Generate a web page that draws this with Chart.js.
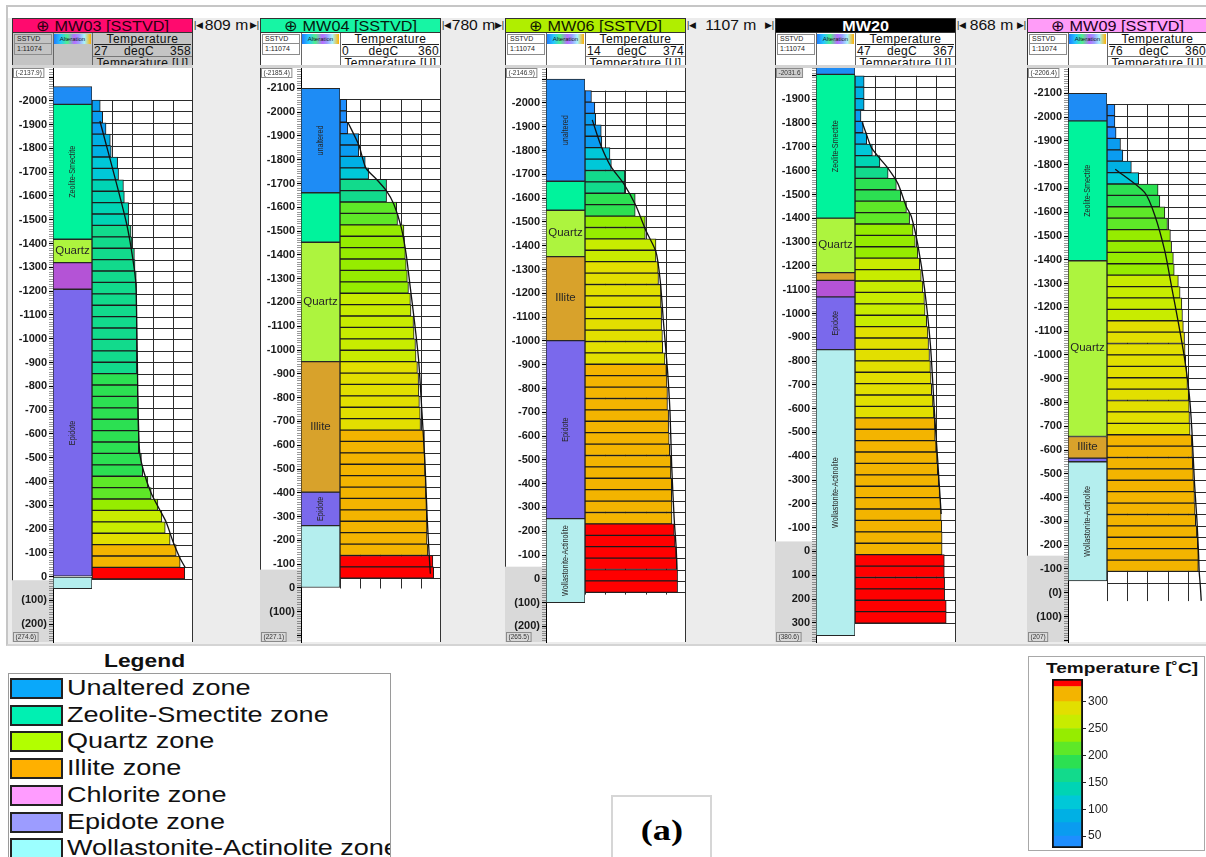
<!DOCTYPE html>
<html>
<head>
<meta charset="utf-8">
<title>Alteration zones and temperature logs</title>
<script src="https://cdn.jsdelivr.net/npm/chart.js@4.4.1/dist/chart.umd.min.js"></script>
<style>
  html, body { margin: 0; padding: 0; }
  body { position: relative; width: 1206px; height: 857px; overflow: hidden; background: #fff;
         font-family: Arial, "Liberation Sans", sans-serif; color: #111; }
  .wide { display: inline-block; transform-origin: left center; }
  .widec { display: inline-block; transform-origin: center center; }
</style>
</head>
<body>
<script>
// ============= SHARED DATA =============
const DEPTH_LABELS = [-2100, -2000, -1900, -1800, -1700, -1600, -1500, -1400, -1300, -1200, -1100,
  -1000, -900, -800, -700, -600, -500, -400, -300, -200, -100, 0, 100, 200, 300];

const TEMP_EDGES  = [28, 50, 75, 100, 125, 150, 175, 200, 225, 250, 275, 300, 328, 342];
const TEMP_COLORS = ['#1e8eff', '#0a9cf0', '#00b0e4', '#00c8d8', '#00d4b4', '#12da8c', '#2ce052',
  '#5ee828', '#96ec00', '#c8ec00', '#e2df00', '#f3b400', '#ff0000'];
const COLORBAR_TICKS = [50, 100, 150, 200, 250, 300];

const ZONE_NAMES  = ['Unaltered', 'Zeolite-Smectite', 'Quartz', 'Illite', 'Chlorite', 'Epidote', 'Wollastonite-Actinolite'];
const ZONE_COLORS = ['#1e8cf5', '#00f39c', '#adf43e', '#d8a22b', '#b453d6', '#7a69ec', '#b4eeee'];
const HORIZONTAL_LABELS = ['Quartz', 'Illite'];

const LEGEND_LABELS = ['Unaltered zone', 'Zeolite-Smectite zone', 'Quartz zone', 'Illite zone',
  'Chlorite zone', 'Epidote zone', 'Wollastonite-Actinolite zone'];
const LEGEND_COLORS = ['#0aa8fa', '#00f0b2', '#b2ff00', '#ffb000', '#ff9cff', '#9c9cff', '#9cffff'];

const DISTANCES = ['809 m', '780 m', '1107 m', '868 m'];

// ============= WELL MW03 =============
const MW03_RANGE = [-2137.9, 274.6];
const MW03_TAXIS = [27, 358];
const MW03_ZONES = ['Unaltered', 'Zeolite-Smectite', 'Quartz', 'Chlorite', 'Epidote', 'Wollastonite-Actinolite'];
const MW03_BOUNDS = [-2060, -1985, -1418, -1320, -1208, 0, 50];
const MW03_ZONE_TEXT = ['', 'Zeolite-Smectite', 'Quartz', '', 'Epidote', ''];
const MW03_ROW_TOP = -2050;
const MW03_TEMP = [54, 62, 73, 87, 90, 111, 114, 130, 133, 147, 148, 155, 158, 166, 168, 172, 173, 173,
  174, 174, 174, 174, 174, 174, 177, 177, 178, 178, 179, 180, 180, 189, 193, 210, 221, 243, 256, 267,
  283, 303, 316, 331];
const MW03_LOG_DEPTH = [-1958, -1516, -1306, -1208, -774, -507, -423, -325, -255, -199, -115, -45, 0];
const MW03_LOG_TEMP  = [53, 139, 166, 172, 177, 183, 196, 221, 248, 270, 292, 314, 332];

// ============= WELL MW04 =============
const MW04_RANGE = [-2185.4, 227.1];
const MW04_TAXIS = [0, 360];
const MW04_ZONES = ['Unaltered', 'Zeolite-Smectite', 'Quartz', 'Illite', 'Epidote', 'Wollastonite-Actinolite'];
const MW04_BOUNDS = [-2100, -1661, -1453, -951, -403, -262, 0];
const MW04_ZONE_TEXT = ['unaltered', '', 'Quartz', 'Illite', 'Epidote', ''];
const MW04_ROW_TOP = -2100;
const MW04_TEMP = [24, 24, 28, 67, 67, 90, 102, 166, 166, 202, 205, 228, 230, 233, 236, 240, 244, 251,
  253, 262, 264, 269, 271, 276, 280, 281, 283, 286, 287, 301, 301, 303, 303, 305, 306, 308, 309, 310,
  310, 313, 331, 334];
const MW04_LOG_DEPTH = [-2000, -1900, -1800, -1750, -1700, -1640, -1540, -1420, -1280, -1120, -960, -730, -500, -260, -100, -20];
const MW04_LOG_TEMP  = [28, 67, 92, 130, 165, 192, 218, 236, 250, 266, 280, 292, 303, 311, 318, 322];

// ============= WELL MW06 =============
const MW06_RANGE = [-2146.9, 265.5];
const MW06_TAXIS = [14, 374];
const MW06_ZONES = ['Unaltered', 'Zeolite-Smectite', 'Quartz', 'Illite', 'Epidote', 'Wollastonite-Actinolite'];
const MW06_BOUNDS = [-2100, -1671, -1549, -1354, -1001, -253, 100];
const MW06_ZONE_TEXT = ['unaltered', '', 'Quartz', 'Illite', 'Epidote', 'Wollastonite-Actinolite'];
const MW06_ROW_TOP = -2100;
const MW06_TEMP = [37, 49, 52, 72, 74, 103, 108, 156, 156, 193, 193, 229, 229, 267, 267, 275, 276, 285,
  285, 287, 287, 290, 291, 299, 304, 306, 308, 308, 312, 312, 314, 316, 320, 320, 323, 323, 324, 324,
  332, 335, 339, 342, 344, 344];
const MW06_LOG_DEPTH = [-1972, -1862, -1768, -1690, -1596, -1487, -1393, -1268, -1080, -876, -689, -454, -219, -94, 0];
const MW06_LOG_TEMP  = [40, 70, 106, 153, 195, 231, 267, 282, 294, 308, 317, 323, 332, 339, 342];

// ============= WELL MW20 =============
const MW20_RANGE = [-2031.6, 380.6];
const MW20_TAXIS = [47, 367];
const MW20_ZONES = ['Unaltered', 'Zeolite-Smectite', 'Quartz', 'Illite', 'Chlorite', 'Epidote', 'Wollastonite-Actinolite'];
const MW20_BOUNDS = [-2060, -2005, -1401, -1172, -1139, -1070, -848, 354];
const MW20_ZONE_TEXT = ['', 'Zeolite-Smectite', 'Quartz', '', '', 'Epidote', 'Wollastonite-Actinolite'];
const MW20_ROW_TOP = -2050;
const MW20_TEMP = [76, 76, 76, 66, 73, 84, 102, 126, 152, 178, 192, 210, 220, 231, 238, 246, 252, 257,
  262, 267, 269, 274, 278, 280, 283, 286, 288, 290, 294, 297, 300, 301, 304, 307, 309, 312, 315, 318,
  320, 322, 323, 323, 330, 330, 331, 331, 336, 336];
const MW20_LOG_DEPTH = [-1845, -1790, -1735, -1687, -1640, -1577, -1475, -1435, -1309, -1120, -868, -569, -364, -128];
const MW20_LOG_TEMP  = [70, 84, 99, 126, 154, 183, 210, 225, 246, 267, 286, 299, 309, 320];

// ============= WELL MW09 =============
const MW09_RANGE = [-2206.4, 207];
const MW09_TAXIS = [16, 360];
const MW09_ZONES = ['Unaltered', 'Zeolite-Smectite', 'Quartz', 'Illite', 'Epidote', 'Wollastonite-Actinolite'];
const MW09_BOUNDS = [-2100, -1984, -1396, -657, -566, -551, -50];
const MW09_ZONE_TEXT = ['', 'Zeolite-Smectite', 'Quartz', 'Illite', '', 'Wollastonite-Actinolite'];
const MW09_ROW_TOP = -2100;
const MW09_TEMP = [43, 43, 47, 62, 70, 99, 124, 190, 196, 213, 222, 232, 236, 242, 245, 259, 265, 271,
  273, 276, 280, 282, 284, 288, 290, 294, 296, 297, 299, 305, 307, 308, 310, 313, 314, 316, 318, 322,
  325, 327, 327];
const MW09_LOG_DEPTH = [-1815, -1713, -1612, -1455, -1299, -1142, -986, -829, -673, -438, -282, -125, -50, 16, 79];
const MW09_LOG_TEMP  = [44, 144, 179, 213, 236, 259, 280, 296, 305, 314, 322, 328, 330, 334, 337];

// ============= PANEL SETUP =============
const WELLS = [
  { title: '⊕ MW03 [SSTVD]', bar: '#ff0a6e', ink: '#2a0010', left: 12, shaded: true,
    head: ['27', '358'], edge: ['(-2137.9)', '(274.6)'], range: MW03_RANGE, taxis: MW03_TAXIS,
    zones: MW03_ZONES, bounds: MW03_BOUNDS, zoneText: MW03_ZONE_TEXT, rowTop: MW03_ROW_TOP,
    temp: MW03_TEMP, logDepth: MW03_LOG_DEPTH, logTemp: MW03_LOG_TEMP,
    greyFrom: 15, parenFrom: 100, hEnd: 50, vEnd: 50 },
  { title: '⊕ MW04 [SSTVD]', bar: '#17f5a4', ink: '#061a10', left: 260,
    head: ['0', '360'], edge: ['(-2185.4)', '(227.1)'], range: MW04_RANGE, taxis: MW04_TAXIS,
    zones: MW04_ZONES, bounds: MW04_BOUNDS, zoneText: MW04_ZONE_TEXT, rowTop: MW04_ROW_TOP,
    temp: MW04_TEMP, logDepth: MW04_LOG_DEPTH, logTemp: MW04_LOG_TEMP,
    greyFrom: -77, parenFrom: 100, hEnd: 0, vEnd: 45 },
  { title: '⊕ MW06 [SSTVD]', bar: '#b0ee00', ink: '#101800', left: 505,
    head: ['14', '374'], edge: ['(-2146.9)', '(265.5)'], range: MW06_RANGE, taxis: MW06_TAXIS,
    zones: MW06_ZONES, bounds: MW06_BOUNDS, zoneText: MW06_ZONE_TEXT, rowTop: MW06_ROW_TOP,
    temp: MW06_TEMP, logDepth: MW06_LOG_DEPTH, logTemp: MW06_LOG_TEMP,
    greyFrom: -51, parenFrom: 100, hEnd: 100, vEnd: 110 },
  { title: 'MW20', bar: '#000', ink: '#fff', bold: true, left: 775, edgeFill: '#cfcfcf',
    head: ['47', '367'], edge: ['-2031.6', '(380.6)'], range: MW20_RANGE, taxis: MW20_TAXIS,
    zones: MW20_ZONES, bounds: MW20_BOUNDS, zoneText: MW20_ZONE_TEXT, rowTop: MW20_ROW_TOP,
    temp: MW20_TEMP, logDepth: MW20_LOG_DEPTH, logTemp: MW20_LOG_TEMP,
    greyFrom: -42, parenFrom: Infinity, hEnd: 350, vEnd: 350 },
  { title: '⊕ MW09 [SSTVD]', bar: '#ff9cf8', ink: '#200020', left: 1027,
    head: ['76', '360'], edge: ['(-2206.4)', '(207)'], range: MW09_RANGE, taxis: MW09_TAXIS,
    zones: MW09_ZONES, bounds: MW09_BOUNDS, zoneText: MW09_ZONE_TEXT, rowTop: MW09_ROW_TOP,
    temp: MW09_TEMP, logDepth: MW09_LOG_DEPTH, logTemp: MW09_LOG_TEMP,
    greyFrom: -156, parenFrom: 0, hEnd: 0, vEnd: 80 }
];

const PANEL_W = 181, AXIS_W = 41, ALT_W = 39, TRACK_W = 101;
const PLOT_TOP = 68, PLOT_H = 574, PAD = 8;
const EDGE_CLEARANCE = 50; // no 100 m label this close to the boxed end values
const FONT = 'Arial, "Liberation Sans", sans-serif';

Chart.defaults.font.family = FONT;

const page = document.body;
function box(x, y, w, h, css, html, parent) {
  const e = document.createElement('div');
  e.style.cssText = `position:absolute;box-sizing:border-box;left:${x}px;top:${y}px;width:${w}px;height:${h}px;${css || ''}`;
  if (html != null) e.innerHTML = html;
  (parent || page).appendChild(e);
  return e;
}
function canvasAt(x, y, w, h) {
  const c = document.createElement('canvas');
  c.width = w; c.height = h;
  c.style.cssText = `position:absolute;left:${x}px;top:${y}px;width:${w}px;height:${h}px;`;
  page.appendChild(c);
  return c;
}
const wide = (txt, k, cls) => `<span class="${cls || 'wide'}" style="transform:scaleX(${k})">${txt}</span>`;

function tempColor(t) {
  for (let i = TEMP_COLORS.length - 1; i >= 0; i--) {
    if (t >= TEMP_EDGES[i]) return TEMP_COLORS[i];
  }
  return TEMP_COLORS[0];
}

// ============= PLUGINS =============
function alterationDeco(w) {
  return {
    id: 'alterationDeco',
    beforeDraw(chart) {
      const { ctx, chartArea: a, scales: { y } } = chart;
      const top = Math.max(a.top, y.getPixelForValue(w.greyFrom));
      ctx.save();
      ctx.fillStyle = '#d9d9d9';
      ctx.fillRect(0, top, a.left, a.bottom - top);
      ctx.restore();
    },
    afterDatasetsDraw(chart) {
      const { ctx, chartArea: a, scales: { y } } = chart;
      const cx = (a.left + a.right) / 2;
      ctx.save();
      ctx.fillStyle = '#262626';
      ctx.textAlign = 'center';
      ctx.textBaseline = 'middle';
      w.zoneText.forEach((txt, i) => {
        if (!txt) return;
        const y0 = Math.max(a.top, y.getPixelForValue(w.bounds[i]));
        const y1 = Math.min(a.bottom, y.getPixelForValue(w.bounds[i + 1]));
        ctx.save();
        ctx.translate(cx, (y0 + y1) / 2);
        if (HORIZONTAL_LABELS.includes(txt)) {
          ctx.font = '10px ' + FONT;
          ctx.scale(1.15, 1);
          ctx.fillText(txt, 0, 0);
        } else {
          ctx.font = '9px ' + FONT;
          ctx.rotate(-Math.PI / 2);
          const room = Math.abs(y1 - y0) - 6;
          const sx = Math.min(0.8, room / ctx.measureText(txt).width);
          ctx.scale(sx, 1.1);
          ctx.fillText(txt, 0, 0);
        }
        ctx.restore();
      });
      ctx.restore();
    },
    afterDraw(chart) {
      const { ctx, chartArea: a } = chart;
      ctx.save();
      ctx.font = '6.5px ' + FONT;
      ctx.textBaseline = 'middle';
      ctx.textAlign = 'left';
      [[w.edge[0], a.top + 5, w.edgeFill || '#fff'], [w.edge[1], a.bottom - 5, '#d9d9d9']].forEach(([t, yy, fill]) => {
        const tw = ctx.measureText(t).width;
        ctx.fillStyle = fill;
        ctx.fillRect(1.5, yy - 4.5, tw + 4, 9);
        ctx.strokeStyle = '#8a8a8a';
        ctx.lineWidth = 1;
        ctx.strokeRect(1.5, yy - 4.5, tw + 4, 9);
        ctx.fillStyle = '#333';
        ctx.fillText(t, 3.5, yy + 0.5);
      });
      ctx.restore();
    }
  };
}

function trackGrid(w) {
  return {
    id: 'trackGrid',
    beforeDatasetsDraw(chart) {
      const { ctx, chartArea: a, scales: { x, y } } = chart;
      const yTop = Math.max(a.top, y.getPixelForValue(w.rowTop));
      const yEnd = y.getPixelForValue(w.vEnd);
      ctx.save();
      ctx.strokeStyle = '#2b2b2b';
      ctx.lineWidth = 1;
      ctx.beginPath();
      for (let d = w.rowTop; d <= w.hEnd; d += 50) {
        const py = y.getPixelForValue(d);
        if (py < a.top) continue;
        ctx.moveTo(a.left, Math.round(py) + 0.5);
        ctx.lineTo(a.right, Math.round(py) + 0.5);
      }
      for (let k = 0; k <= 5; k++) {
        const px = x.getPixelForValue(w.taxis[0] + k * (w.taxis[1] - w.taxis[0]) / 5);
        const xx = Math.max(a.left + 0.5, Math.min(Math.round(px) + 0.5, a.right - 0.5));
        ctx.moveTo(xx, yTop);
        ctx.lineTo(xx, yEnd);
      }
      ctx.stroke();
      ctx.restore();
    }
  };
}

// ============= FRAME =============
box(6, 5, 1206, 641, 'background:#ececec;border-top:2px solid #c6c6c6;border-left:2px solid #c6c6c6;border-bottom:2px solid #d4d4d4;');
box(8, 7, 1198, 11, 'background:#fff;');

// ============= WELL PANELS =============
WELLS.forEach((w) => {
  const L = w.left;
  const cellBg = w.shaded ? '#c4c4c4' : '#fff';

  // title bar
  box(L, 18, PANEL_W, 15,
    `background:${w.bar};color:${w.ink};font-size:15px;line-height:14px;text-align:center;white-space:nowrap;overflow:hidden;border:1px solid #333;${w.bold ? 'font-weight:bold;' : ''}`,
    wide(w.title, 1.08, 'widec'));

  // header cells
  box(L, 33, PANEL_W, 32, `background:${cellBg};border-left:1px solid #333;border-right:1px solid #333;`);
  box(L + 2, 34, 38, 10, `font-size:7px;line-height:8px;padding-left:2px;border:1px solid #8c8c8c;background:${cellBg};color:#222;`, 'SSTVD');
  box(L + 2, 44, 38, 11, `font-size:7px;line-height:9px;padding-left:2px;border:1px solid #8c8c8c;border-top:none;background:${cellBg};color:#222;`, '1:11074');
  box(L + 42, 34, 37, 10,
    'background:linear-gradient(90deg,#1f7cff 0%,#25c8ff 18%,#52f08a 36%,#b76cff 55%,#9aa0ff 68%,#a6f4ff 82%,#ffb000 100%);font-size:6px;line-height:10px;text-align:center;color:#111;overflow:hidden;',
    'Alteration');
  box(L + 41, 33, 1, 32, 'background:#666;');
  box(L + 80, 33, 1, 32, 'background:#666;');
  box(L + 81, 33, 99, 11, 'font-size:12px;line-height:12px;text-align:center;letter-spacing:0.4px;color:#111;', 'Temperature');
  box(L + 82, 44, 97, 1, 'background:#222;');
  box(L + 82, 45, 97, 11,
    'font-size:12px;line-height:12px;display:flex;justify-content:space-between;color:#111;letter-spacing:0.3px;',
    `<span>${w.head[0]}</span><span>degC</span><span>${w.head[1]}</span>`);
  box(L + 81, 56, 99, 1, 'background:#777;');
  box(L + 81, 57, 99, 8, 'font-size:12px;line-height:12px;text-align:center;overflow:hidden;letter-spacing:0.4px;color:#111;', 'Temperature [U]');
  box(L, 65, PANEL_W, 3, 'background:#d4d4d4;');

  // plot background
  box(L, PLOT_TOP, PANEL_W, PLOT_H, 'background:#fff;border-left:1px solid #333;border-right:1px solid #333;');

  // depth axis + alteration column
  const shownLabels = DEPTH_LABELS.filter(v => v - w.range[0] >= EDGE_CLEARANCE && w.range[1] - v >= EDGE_CLEARANCE);
  const cA = canvasAt(L, PLOT_TOP - PAD, AXIS_W + ALT_W, PLOT_H + 2 * PAD);
  new Chart(cA, {
    type: 'bar',
    data: {
      labels: ['Alteration'],
      datasets: w.zones.map((z, i) => ({
        label: z,
        data: [[w.bounds[i], w.bounds[i + 1]]],
        backgroundColor: ZONE_COLORS[ZONE_NAMES.indexOf(z)],
        borderColor: '#262626',
        borderWidth: 1,
        borderSkipped: false,
        grouped: false,
        categoryPercentage: 1,
        barPercentage: 1,
        clip: 0
      }))
    },
    options: {
      responsive: false,
      animation: false,
      events: [],
      layout: { padding: { top: PAD, bottom: PAD, left: 0, right: 0 } },
      plugins: { legend: { display: false }, tooltip: { enabled: false } },
      scales: {
        x: { display: false },
        y: {
          type: 'linear',
          min: w.range[0],
          max: w.range[1],
          reverse: true,
          afterBuildTicks: (s) => {
            const ticks = [];
            for (let v = Math.ceil(s.min / 10) * 10; v <= s.max; v += 10) ticks.push({ value: v });
            s.ticks = ticks;
          },
          afterFit: (s) => { s.width = AXIS_W; s.paddingTop = 0; s.paddingBottom = 0; },
          ticks: {
            autoSkip: false,
            padding: 2,
            color: '#1a1a1a',
            font: { size: 11, weight: 'bold' },
            callback: (v) => shownLabels.includes(v) ? (v >= w.parenFrom ? '(' + v + ')' : String(v)) : ''
          },
          grid: {
            drawOnChartArea: false,
            tickLength: 4,
            tickColor: (c) => (c.tick && DEPTH_LABELS.includes(c.tick.value)) ? '#000' : '#555',
            tickWidth: (c) => (c.tick && DEPTH_LABELS.includes(c.tick.value)) ? 1.2 : 0.6
          },
          border: { display: true, color: '#000', width: 1 }
        }
      }
    },
    plugins: [alterationDeco(w)]
  });

  // temperature track
  const cB = canvasAt(L + AXIS_W + ALT_W, PLOT_TOP - PAD, TRACK_W, PLOT_H + 2 * PAD);
  new Chart(cB, {
    type: 'bar',
    data: {
      datasets: [
        {
          type: 'line',
          data: w.logDepth.map((d, i) => ({ x: w.logTemp[i], y: d })),
          borderColor: '#111',
          borderWidth: 1.3,
          pointRadius: 0,
          tension: 0.25,
          clip: 0,
          order: 0
        },
        {
          type: 'bar',
          data: w.temp.map((t, i) => ({ x: [w.taxis[0], t], y: w.rowTop + 50 * i + 25 })),
          backgroundColor: w.temp.map(tempColor),
          borderColor: '#1c1c1c',
          borderWidth: 1,
          borderSkipped: false,
          categoryPercentage: 1,
          barPercentage: 1,
          clip: 0,
          order: 2
        }
      ]
    },
    options: {
      indexAxis: 'y',
      responsive: false,
      animation: false,
      events: [],
      layout: { padding: { top: PAD, bottom: PAD, left: 0, right: 0 } },
      plugins: { legend: { display: false }, tooltip: { enabled: false } },
      scales: {
        x: { type: 'linear', min: w.taxis[0], max: w.taxis[1], display: false },
        y: {
          type: 'linear',
          min: w.range[0],
          max: w.range[1],
          reverse: true,
          display: false,
          afterBuildTicks: (s) => {
            s.ticks = DEPTH_LABELS.filter(v => v >= s.min && v <= s.max).map(v => ({ value: v }));
          }
        }
      }
    },
    plugins: [trackGrid(w)]
  });
});

// distance labels between wells
for (let i = 0; i < DISTANCES.length; i++) {
  const gx = WELLS[i].left + PANEL_W;
  const gw = WELLS[i + 1].left - gx;
  box(gx + 1, 18, gw - 2, 14,
    'font-size:14px;line-height:14px;display:flex;justify-content:space-between;align-items:center;color:#111;white-space:nowrap;',
    `<span style="font-size:9px">|&#9664;</span>${wide(DISTANCES[i], 1.12, 'widec')}<span style="font-size:9px">&#9654;|</span>`);
}

// ============= LEGEND =============
box(104, 650, 120, 22, 'font-weight:bold;font-size:19px;line-height:22px;color:#111;white-space:nowrap;', wide('Legend', 1.2));
const legendBox = box(8, 673, 383, 190, 'border:1px solid #9a9a9a;overflow:hidden;background:#fff;');
LEGEND_LABELS.forEach((lab, i) => {
  const top = 4 + 26.7 * i;
  box(1, top, 53, 21, `background:${LEGEND_COLORS[i]};border:2px solid #222;`, null, legendBox);
  box(58, top - 3, 400, 26, 'font-size:22px;line-height:26px;white-space:nowrap;color:#111;', wide(lab, 1.23), legendBox);
});

// ============= (a) LABEL =============
box(611, 795, 101, 70,
  'border:2px solid #d6d6d6;border-bottom:none;font-family:"Liberation Serif","Times New Roman",serif;font-weight:bold;font-size:29px;text-align:center;line-height:66px;color:#000;',
  wide('(a)', 1.25, 'widec'));

// ============= TEMPERATURE COLOUR BAR =============
box(1028, 656, 177, 195, 'border:1px solid #a8a8a8;background:#fff;');
box(1046, 658, 160, 20, 'font-weight:bold;font-size:15px;line-height:20px;white-space:nowrap;color:#111;', wide('Temperature [˚C]', 1.27));
const cC = canvasAt(1045, 672, 68, 184);
new Chart(cC, {
  type: 'bar',
  data: {
    labels: [''],
    datasets: [
      {
        data: [[TEMP_EDGES[0], TEMP_EDGES[TEMP_EDGES.length - 1]]],
        backgroundColor: 'rgba(0,0,0,0)',
        borderColor: '#111',
        borderWidth: 1.5,
        borderSkipped: false,
        grouped: false,
        categoryPercentage: 1,
        barPercentage: 1,
        order: 0
      },
      ...TEMP_COLORS.map((c, i) => ({
        data: [[TEMP_EDGES[i], TEMP_EDGES[i + 1]]],
        backgroundColor: c,
        borderWidth: 0,
        grouped: false,
        categoryPercentage: 1,
        barPercentage: 1,
        order: 1
      }))
    ]
  },
  options: {
    responsive: false,
    animation: false,
    events: [],
    layout: { padding: { top: 7, bottom: 8, left: 7, right: 0 } },
    plugins: { legend: { display: false }, tooltip: { enabled: false } },
    scales: {
      x: { display: false },
      y: {
        position: 'right',
        min: TEMP_EDGES[0],
        max: TEMP_EDGES[TEMP_EDGES.length - 1],
        afterBuildTicks: (s) => { s.ticks = COLORBAR_TICKS.map(v => ({ value: v })); },
        afterFit: (s) => { s.width = 30; s.paddingTop = 0; s.paddingBottom = 0; },
        ticks: { color: '#222', font: { size: 12 }, padding: 2 },
        grid: { drawOnChartArea: false, tickLength: 3, color: '#222' },
        border: { display: false }
      }
    }
  }
});
</script>
</body>
</html>
